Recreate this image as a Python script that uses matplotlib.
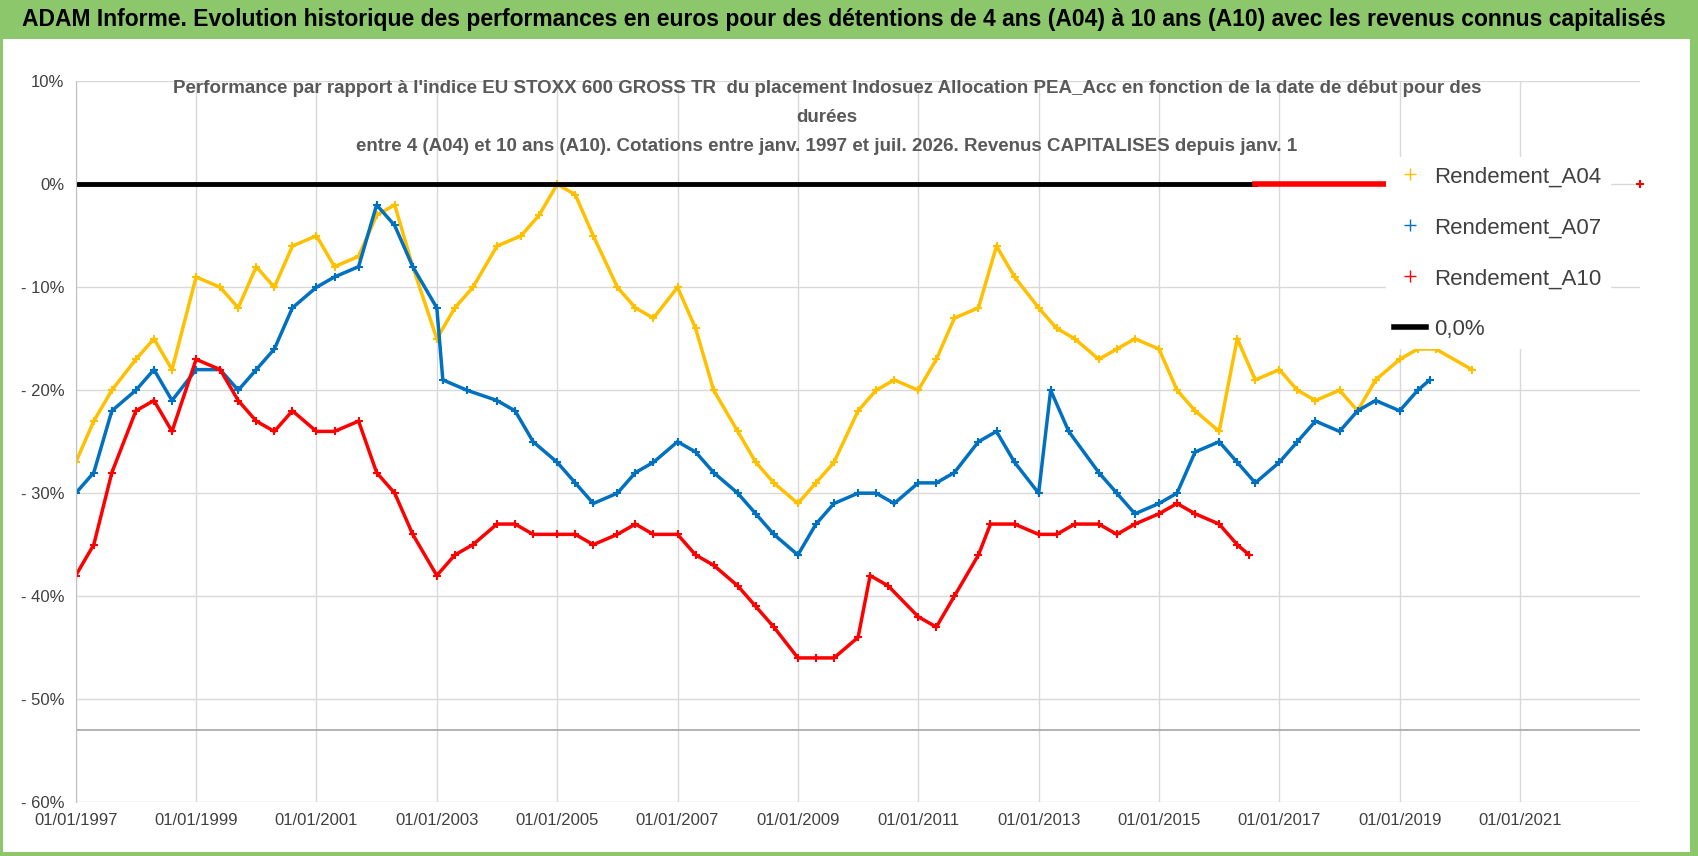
import matplotlib
matplotlib.use("Agg")
import matplotlib.pyplot as plt
from matplotlib.patches import Rectangle
from matplotlib.lines import Line2D

plt.rcParams["font.family"] = ["Liberation Sans", "DejaVu Sans"]

# dates en années décimales, performances en %
a04_x = [1997.0, 1997.3, 1997.6, 1998.0, 1998.3, 1998.6, 1999.0, 1999.4, 1999.7, 2000.0,
         2000.3, 2000.6, 2001.0, 2001.3, 2001.7, 2002.0, 2002.3, 2002.6, 2003.0, 2003.3,
         2003.6, 2004.0, 2004.4, 2004.7, 2005.0, 2005.3, 2005.6, 2006.0, 2006.3, 2006.6,
         2007.0, 2007.3, 2007.6, 2008.0, 2008.3, 2008.6, 2009.0, 2009.3, 2009.6, 2010.0,
         2010.3, 2010.6, 2011.0, 2011.3, 2011.6, 2012.0, 2012.3, 2012.6, 2013.0, 2013.3,
         2013.6, 2014.0, 2014.3, 2014.6, 2015.0, 2015.3, 2015.6, 2016.0, 2016.3, 2016.6,
         2017.0, 2017.3, 2017.6, 2018.0, 2018.3, 2018.6, 2019.0, 2019.3, 2019.6, 2020.2]
a04_y = [-27, -23, -20, -17, -15, -18, -9, -10, -12, -8,
         -10, -6, -5, -8, -7, -3, -2, -8, -15, -12,
         -10, -6, -5, -3, 0, -1, -5, -10, -12, -13,
         -10, -14, -20, -24, -27, -29, -31, -29, -27, -22,
         -20, -19, -20, -17, -13, -12, -6, -9, -12, -14,
         -15, -17, -16, -15, -16, -20, -22, -24, -15, -19,
         -18, -20, -21, -20, -22, -19, -17, -16, -16, -18]

a07_x = [1997.0, 1997.3, 1997.6, 1998.0, 1998.3, 1998.6, 1999.0, 1999.4, 1999.7, 2000.0,
         2000.3, 2000.6, 2001.0, 2001.3, 2001.7, 2002.0, 2002.3, 2002.6, 2003.0, 2003.1,
         2003.5, 2004.0, 2004.3, 2004.6, 2005.0, 2005.3, 2005.6, 2006.0, 2006.3, 2006.6,
         2007.0, 2007.3, 2007.6, 2008.0, 2008.3, 2008.6, 2009.0, 2009.3, 2009.6, 2010.0,
         2010.3, 2010.6, 2011.0, 2011.3, 2011.6, 2012.0, 2012.3, 2012.6, 2013.0, 2013.2,
         2013.5, 2014.0, 2014.3, 2014.6, 2015.0, 2015.3, 2015.6, 2016.0, 2016.3, 2016.6,
         2017.0, 2017.3, 2017.6, 2018.0, 2018.3, 2018.6, 2019.0, 2019.3, 2019.5]
a07_y = [-30, -28, -22, -20, -18, -21, -18, -18, -20, -18,
         -16, -12, -10, -9, -8, -2, -4, -8, -12, -19,
         -20, -21, -22, -25, -27, -29, -31, -30, -28, -27,
         -25, -26, -28, -30, -32, -34, -36, -33, -31, -30,
         -30, -31, -29, -29, -28, -25, -24, -27, -30, -20,
         -24, -28, -30, -32, -31, -30, -26, -25, -27, -29,
         -27, -25, -23, -24, -22, -21, -22, -20, -19]

a10_x = [1997.0, 1997.3, 1997.6, 1998.0, 1998.3, 1998.6, 1999.0, 1999.4, 1999.7, 2000.0,
         2000.3, 2000.6, 2001.0, 2001.3, 2001.7, 2002.0, 2002.3, 2002.6, 2003.0, 2003.3,
         2003.6, 2004.0, 2004.3, 2004.6, 2005.0, 2005.3, 2005.6, 2006.0, 2006.3, 2006.6,
         2007.0, 2007.3, 2007.6, 2008.0, 2008.3, 2008.6, 2009.0, 2009.3, 2009.6, 2010.0,
         2010.2, 2010.5, 2011.0, 2011.3, 2011.6, 2012.0, 2012.2, 2012.6, 2013.0, 2013.3,
         2013.6, 2014.0, 2014.3, 2014.6, 2015.0, 2015.3, 2015.6, 2016.0, 2016.3, 2016.5]
a10_y = [-38, -35, -28, -22, -21, -24, -17, -18, -21, -23,
         -24, -22, -24, -24, -23, -28, -30, -34, -38, -36,
         -35, -33, -33, -34, -34, -34, -35, -34, -33, -34,
         -34, -36, -37, -39, -41, -43, -46, -46, -46, -44,
         -38, -39, -42, -43, -40, -36, -33, -33, -34, -34,
         -33, -33, -34, -33, -32, -31, -32, -33, -35, -36]
a10_zero_x = [2016.6, 2017.0, 2017.4, 2017.8, 2018.2, 2018.6, 2018.8, 2023.0]

zero_x = [1997.0, 2016.6]
zero_y = [0, 0]

year_ticks = [1997, 1999, 2001, 2003, 2005, 2007, 2009, 2011, 2013, 2015, 2017, 2019, 2021]
pct_ticks = [10, 0, -10, -20, -30, -40, -50, -60]

C04, C07, C10 = "#ffc000", "#0070c0", "#ff0000"

fig = plt.figure(figsize=(16.98, 8.56), dpi=100)
fig.patch.set_facecolor("#8cc76b")
fig.add_artist(Rectangle((0.002, 0.005), 0.993, 0.95, transform=fig.transFigure,
                         facecolor="white", edgecolor="none", zorder=0))
fig.text(0.497, 0.977, "ADAM Informe. Evolution historique des performances en euros pour des détentions de 4 ans (A04) à 10 ans (A10) avec les revenus connus capitalisés",
         ha="center", va="center", fontsize=16.5, fontweight="bold")

ax = fig.add_axes([0.0446, 0.063, 0.9215, 0.842])
ax.set_xlim(1997, 2023.0)
ax.set_ylim(-60, 10)
ax.grid(True, color="#d9d9d9", linewidth=1)
ax.set_axisbelow(True)
for s in ["top", "right", "bottom"]:
    ax.spines[s].set_visible(False)
ax.spines["left"].set_color("#bfbfbf")
ax.axhline(-53, color="#a6a6a6", linewidth=1.2)

kw = dict(marker="+", markersize=6, linewidth=2.5, markeredgewidth=1.5)
ax.plot(a04_x, a04_y, color=C04, **kw)
ax.plot(a07_x, a07_y, color=C07, **kw)
ax.plot(a10_x, a10_y, color=C10, **kw)
ax.plot(a10_zero_x[:-1], [0] * (len(a10_zero_x) - 1), color=C10, linewidth=4, zorder=3)
ax.plot(a10_zero_x[-1:], [0], color=C10, marker="+", markersize=6, markeredgewidth=1.5, clip_on=False)
ax.plot(zero_x, zero_y, color="black", linewidth=3.5)

ax.set_xticks(year_ticks)
ax.set_xticklabels([f"01/01/{y}" for y in year_ticks], fontsize=12, color="#404040")
ax.set_yticks(pct_ticks)
ax.set_yticklabels([f"{p}%" if p >= 0 else f"- {-p}%" for p in pct_ticks], fontsize=12, color="#404040")
ax.tick_params(length=0, pad=8)

sub = ("Performance par rapport à l'indice EU STOXX 600 GROSS TR  du placement Indosuez Allocation PEA_Acc en fonction de la date de début pour des",
       "durées",
       "entre 4 (A04) et 10 ans (A10). Cotations entre janv. 1997 et juil. 2026. Revenus CAPITALISES depuis janv. 1")
for i, line in enumerate(sub):
    ax.text(0.48, 0.99 - i * 0.04, line, transform=ax.transAxes, ha="center", va="center",
            fontsize=13.5, fontweight="bold", color="#595959")

handles = [Line2D([], [], color=C04, marker="+", linestyle="none", markersize=8),
           Line2D([], [], color=C07, marker="+", linestyle="none", markersize=8),
           Line2D([], [], color=C10, marker="+", linestyle="none", markersize=8),
           Line2D([], [], color="black", linewidth=4)]
leg = ax.legend(handles, ["Rendement_A04", "Rendement_A07", "Rendement_A10", "0,0%"],
                loc="upper left", bbox_to_anchor=(0.83, 0.91), fontsize=16, frameon=True,
                facecolor="white", edgecolor="none", framealpha=1, labelspacing=1.35,
                handlelength=1.4, handletextpad=0.4, labelcolor="#404040")

fig.savefig("out.png", dpi=100)
